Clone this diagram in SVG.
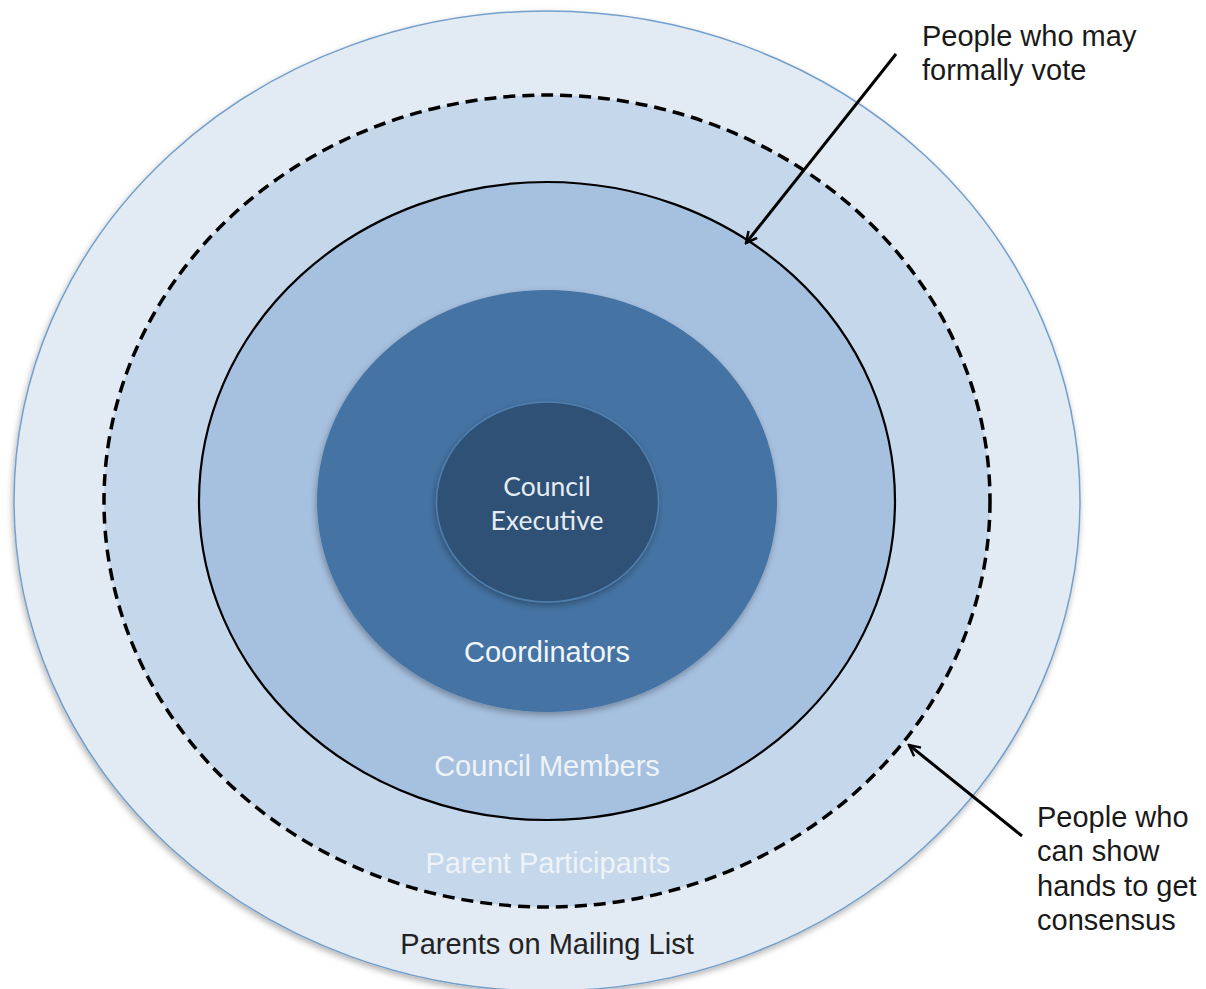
<svg xmlns="http://www.w3.org/2000/svg" width="1206" height="989" viewBox="0 0 1206 989">
<style>
.lbl{font-family:"Liberation Sans",Arial,sans-serif;font-size:29px;text-anchor:middle}
.note{font-family:"Liberation Sans",Arial,sans-serif;font-size:29px;fill:#1a1a1a}
.exec{font-family:Lato,"Open Sans",sans-serif;font-size:26.5px;fill:#e6ecf3;text-anchor:middle}
.conn{stroke:#000;stroke-width:3;fill:none}
</style>
<defs>
<filter id="sh" x="-10%" y="-10%" width="120%" height="120%">
<feDropShadow dx="-1" dy="3" stdDeviation="3" flood-color="#000" flood-opacity="0.3"/>
</filter>
<marker id="ah" viewBox="0 0 14 14" refX="12.5" refY="7" markerWidth="14" markerHeight="14" markerUnits="userSpaceOnUse" orient="auto">
<path d="M1.5,1.5 L12.5,7 L1.5,12.5" fill="none" stroke="#000" stroke-width="2.5"/>
</marker>
</defs>
<rect width="1206" height="989" fill="#fff"/>
<g id="mailing-list">
<ellipse cx="547" cy="501" rx="533" ry="490" fill="#e2eaf4" stroke="#739fcb" stroke-width="1.5" filter="url(#sh)"/>
<text class="lbl" x="547" y="954" fill="#222">Parents on Mailing List</text>
</g>
<g id="parent-participants">
<ellipse cx="547" cy="501" rx="443" ry="406" fill="#c5d7ea" stroke="#000" stroke-width="3.5" stroke-dasharray="12,7"/>
<text class="lbl" x="548" y="873" fill="#eef3f9">Parent Participants</text>
</g>
<g id="council-members">
<ellipse cx="547" cy="501" rx="348" ry="319" fill="#a6c0df" stroke="#000" stroke-width="2.2"/>
<text class="lbl" x="547" y="776" fill="#eef3f9">Council Members</text>
</g>
<g id="coordinators">
<ellipse cx="547" cy="501" rx="230" ry="211" fill="#4473a3" filter="url(#sh)"/>
<text class="lbl" x="547" y="662" fill="#f2f5f9">Coordinators</text>
</g>
<g id="council-executive">
<ellipse cx="547.5" cy="502" rx="111" ry="100" fill="#2f5174" stroke="#4f7faf" stroke-width="1.5" filter="url(#sh)"/>
<text class="exec" x="547" y="496">Council</text>
<text class="exec" x="547" y="530">Executive</text>
</g>
<g id="connectors">
<line class="conn" x1="896" y1="54" x2="746" y2="243" marker-end="url(#ah)"/>
<line class="conn" x1="1022" y1="836" x2="909" y2="745" marker-end="url(#ah)"/>
</g>
<g id="note-vote">
<text class="note" x="922" y="46">People who may</text>
<text class="note" x="922" y="80">formally vote</text>
</g>
<g id="note-hands">
<text class="note" x="1037" y="827">People who</text>
<text class="note" x="1037" y="861">can show</text>
<text class="note" x="1037" y="896">hands to get</text>
<text class="note" x="1037" y="930">consensus</text>
</g>
</svg>
